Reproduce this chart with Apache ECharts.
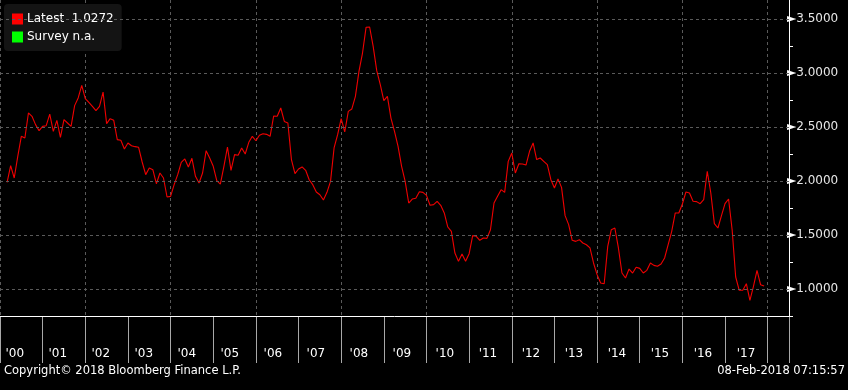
<!DOCTYPE html>
<html>
<head>
<meta charset="utf-8">
<script src="https://cdn.jsdelivr.net/npm/echarts@6/dist/echarts.min.js"></script>
<style>
  html, body { margin: 0; padding: 0; background: #000; }
  #main { width: 848px; height: 390px; }
</style>
</head>
<body>
<div id="main"></div>
<script>
// months counted from Jan 2000 (0 = Jan 2000); first reading is Mar 2000
var startMonth = 2;
var latestValues = [
    1.988, 2.142, 2.028, 2.228, 2.414, 2.398, 2.630, 2.599, 2.522, 2.466,
    2.506, 2.512, 2.620, 2.460, 2.562, 2.404, 2.568, 2.537, 2.506, 2.698,
    2.769, 2.886, 2.762, 2.728, 2.691, 2.651, 2.691, 2.824, 2.531, 2.577,
    2.562, 2.383, 2.377, 2.296, 2.352, 2.327, 2.318, 2.312, 2.176, 2.059,
    2.120, 2.105, 1.975, 2.074, 2.028, 1.852, 1.858, 1.966, 2.059, 2.173,
    2.204, 2.130, 2.210, 2.043, 1.981, 2.074,
    2.281, 2.213, 2.136, 2.003, 1.972, 2.136, 2.315, 2.099, 2.244, 2.238,
    2.306, 2.250, 2.358, 2.414, 2.373, 2.423, 2.438, 2.432, 2.414, 2.602,
    2.599, 2.676, 2.552, 2.537, 2.198, 2.068, 2.111, 2.130, 2.099, 2.012,
    1.966, 1.898, 1.873, 1.824, 1.895, 1.997, 2.306, 2.429, 2.577, 2.454,
    2.645, 2.667, 2.784, 3.015, 3.185, 3.423, 3.426, 3.247, 3.022, 2.892,
    2.744, 2.784, 2.583, 2.460,
    2.321, 2.136, 1.997, 1.796, 1.833, 1.840, 1.901, 1.895, 1.867, 1.775,
    1.781, 1.812, 1.775, 1.704, 1.574, 1.534, 1.333, 1.256, 1.324, 1.256,
    1.327, 1.494, 1.488, 1.451, 1.472, 1.469, 1.549, 1.796, 1.858, 1.920,
    1.895, 2.182, 2.259, 2.074, 2.160, 2.157, 2.148, 2.275, 2.352, 2.198,
    2.213, 2.182, 2.151, 2.012, 1.935, 2.019, 1.941, 1.679, 1.596, 1.451,
    1.441, 1.457, 1.426, 1.410,
    1.380, 1.241, 1.133, 1.056, 1.049, 1.395, 1.549, 1.565, 1.380, 1.148,
    1.102, 1.185, 1.148, 1.201, 1.191, 1.148, 1.173, 1.241, 1.219, 1.210,
    1.231, 1.287, 1.410, 1.534, 1.704, 1.704, 1.787, 1.898, 1.889, 1.812,
    1.809, 1.790, 1.827, 2.090, 1.889, 1.605, 1.565, 1.679, 1.790, 1.833,
    1.549, 1.111, 0.988, 0.988, 1.049, 0.895, 1.025, 1.173, 1.040, 1.0272
];
var yearLabels = ["'00","'01","'02","'03","'04","'05","'06","'07","'08","'09",
                  "'10","'11","'12","'13","'14","'15","'16","'17"];
var gridValues = [1.0, 1.5, 2.0, 2.5, 3.0, 3.5];
var latestText = '1.0272';

var FONT = 'DejaVu Sans';
var lineData = latestValues.map(function (v, i) { return [startMonth + i, v]; });

var myChart = echarts.init(document.getElementById('main'));
var option = {
    backgroundColor: '#000',
    animation: false,
    textStyle: { fontFamily: FONT },
    legend: {
        left: 4, top: 4,
        orient: 'vertical',
        padding: [9, 8, 8, 8],
        itemGap: 6,
        itemWidth: 11, itemHeight: 11,
        icon: 'rect',
        backgroundColor: '#141414',
        borderRadius: 4,
        textStyle: { color: '#fff', fontSize: 12, fontFamily: FONT, padding: [0, 0, 0, -1] },
        formatter: function (name) {
            return name == 'Latest' ? 'Latest  ' + latestText : 'Survey n.a.';
        },
        data: ['Latest', 'Survey']
    },
    grid: [
        { left: -6.7, right: 59, top: 0, bottom: 74 },
        { left: -6.7, right: 59, top: 316, height: 47 },
        { left: 14.8, right: 37.5, top: 316, height: 30 }
    ],
    xAxis: [
        {
            gridIndex: 0, type: 'value', min: 0, max: 222, interval: 24,
            axisLine: { show: true, onZero: false, lineStyle: { color: '#fff', width: 1 } },
            axisTick: { show: false },
            axisLabel: { show: false },
            splitLine: { show: true, lineStyle: { color: '#5a5a5a', type: [3, 3] } }
        },
        {
            gridIndex: 1, type: 'value', min: 0, max: 222, interval: 12,
            axisLine: { show: false, onZero: false }, axisTick: { show: false }, axisLabel: { show: false },
            splitLine: { show: true, lineStyle: { color: '#a8a8a8', width: 1 } }
        },
        {
            gridIndex: 2, type: 'value', min: 0, max: 222, interval: 12,
            axisLine: { show: false, onZero: false }, axisTick: { show: false },
            splitLine: { show: false },
            axisLabel: {
                show: true, margin: 2, color: '#fff', fontSize: 12, fontFamily: FONT,
                showMinLabel: true, showMaxLabel: false,
                formatter: function (v) {
                    var k = Math.round(v / 12);
                    if (Math.abs(v - k * 12) > 0.01) return '';
                    return yearLabels[k] || '';
                }
            }
        }
    ],
    yAxis: [
        {
            gridIndex: 0, type: 'value', position: 'right',
            min: 0.75, max: 3.676, interval: 0.25,
            axisLine: { show: true, onZero: false, lineStyle: { color: '#fff', width: 1 } },
            axisTick: { show: true, length: 4, lineStyle: { color: '#fff' } },
            splitLine: { show: false },
            axisLabel: {
                show: true, margin: 0, color: '#e6e6e6', fontSize: 12, fontFamily: FONT,
                showMinLabel: true, showMaxLabel: false,
                formatter: function (v) {
                    var k = Math.round(v * 2);
                    if (Math.abs(v * 2 - k) > 0.001 || v < 0.99) return '';
                    return '{t|\u25BA}' + v.toFixed(4);
                },
                rich: {
                    t: { color: '#fff', fontSize: 12, fontFamily: FONT, padding: [0, 0, 0, -2] }
                }
            }
        },
        { gridIndex: 1, type: 'value', show: false, min: 0, max: 1 },
        { gridIndex: 2, type: 'value', show: false, min: 0, max: 1 }
    ],
    series: [
        {
            name: 'Latest',
            type: 'line',
            xAxisIndex: 0, yAxisIndex: 0,
            data: lineData,
            showSymbol: false,
            symbol: 'none',
            color: '#ff0000',
            lineStyle: { color: '#f00000', width: 1.1 },
            markLine: {
                silent: true,
                symbol: ['none', 'none'],
                label: { show: false },
                lineStyle: { color: '#5a5a5a', type: [3, 3], width: 1 },
                data: gridValues.map(function (g) { return { yAxis: g }; })
            }
        },
        {
            name: 'Survey',
            type: 'line',
            xAxisIndex: 0, yAxisIndex: 0,
            data: [],
            color: '#00ff00'
        }
    ],
    graphic: [
        {
            type: 'text', left: 4, top: 365,
            style: { text: 'Copyright\u00A9 2018 Bloomberg Finance L.P.', fill: '#fff', font: '11.5px "DejaVu Sans"' }
        },
        {
            type: 'text', right: 3, top: 365,
            style: { text: '08-Feb-2018 07:15:57', fill: '#fff', font: '11.5px "DejaVu Sans"' }
        }
    ]
};
myChart.setOption(option);
</script>
</body>
</html>
